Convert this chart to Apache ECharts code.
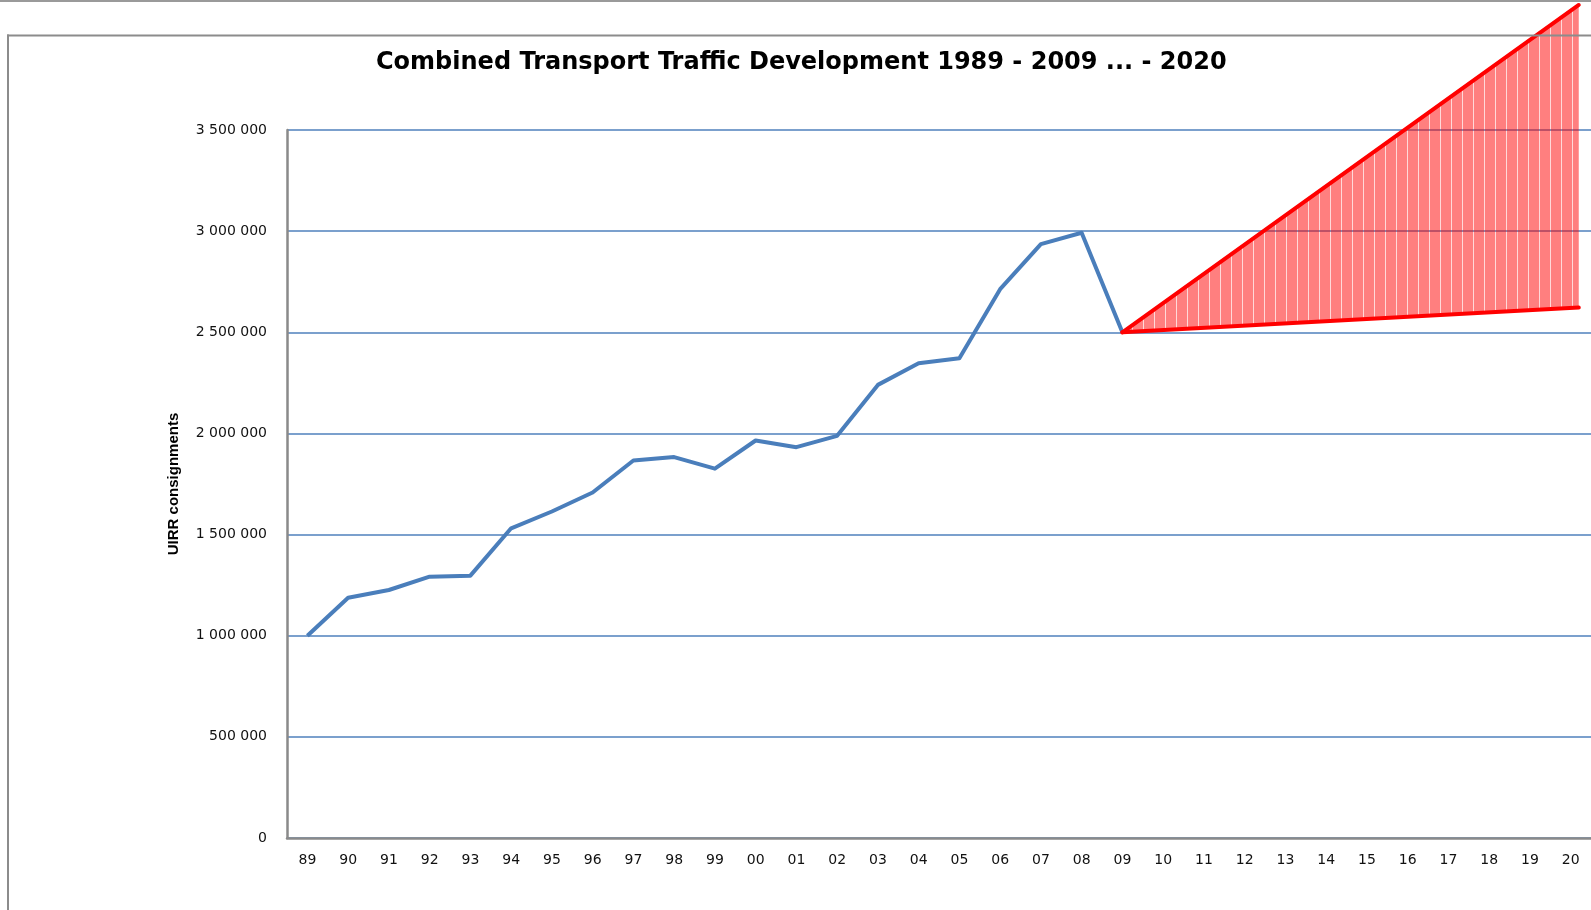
<!DOCTYPE html>
<html>
<head>
<meta charset="utf-8">
<script src="https://cdn.jsdelivr.net/npm/echarts@6/dist/echarts.min.js"></script>
<style>
html,body{margin:0;padding:0;background:#fff;}
#chart{width:1591px;height:910px;}
</style>
</head>
<body>
<div id="chart"></div>
<script>
// ---- data ----
const years = ['89','90','91','92','93','94','95','96','97','98','99','00','01','02','03','04','05','06','07','08','09','10','11','12','13','14','15','16','17','18','19','20'];
const traffic = [1000000, 1188000, 1226000, 1292000, 1297000, 1531000, 1614000, 1708000, 1866000, 1883000, 1826000, 1965000, 1932000, 1988000, 2240000, 2347000, 2372000, 2713000, 2936000, 2992000, 2500000,
  null, null, null, null, null, null, null, null, null, null, null];
// projection wedge (year, consignments)
const projYears = [2009, 2020.2];
const projHigh = [2500000, 4118000];
const projLow = [2500000, 2622000];
const yMin = 0, yMax = 3500000, yStep = 500000;
const titleText = 'Combined Transport Traffic Development 1989 - 2009 ... - 2020';
const yName = 'UIRR consignments';

// hatch pattern for wedge
const pc = document.createElement('canvas');
pc.width = 11; pc.height = 4;
const g = pc.getContext('2d');
g.fillStyle = 'rgba(255,0,0,0.5)';
g.fillRect(0, 0, 10, 4);
g.fillStyle = 'rgba(255,0,0,0.15)';
g.fillRect(10, 0, 1, 4);

function fmt(v) { return String(v).replace(/\B(?=(\d{3})+(?!\d))/g, ' '); }

const chart = echarts.init(document.getElementById('chart'));
chart.setOption({
  animation: false,
  backgroundColor: '#fff',
  title: {
    text: titleText,
    left: 376, top: 51, padding: 0,
    textStyle: { fontFamily: 'DejaVu Sans', fontWeight: 'bold', fontSize: 24, color: '#000' }
  },
  grid: { left: 287, top: 130, width: 1310, height: 708, containLabel: false },
  xAxis: [{
    type: 'category',
    data: years,
    boundaryGap: true,
    axisLine: { show: true, lineStyle: { color: '#8a8a8a', width: 2.5 } },
    axisTick: { show: false },
    axisLabel: { interval: 0, margin: 15, color: '#111', fontFamily: 'DejaVu Sans', fontSize: 14 },
    splitLine: { show: false }
  }, {
    type: 'value', min: 1988.5, max: 2020.5, show: false,
    splitLine: { show: false }
  }],
  yAxis: {
    type: 'value',
    min: yMin, max: yMax, interval: yStep,
    name: yName,
    nameLocation: 'middle',
    nameRotate: 90,
    nameGap: 106,
    nameTextStyle: { fontFamily: 'Liberation Sans', fontWeight: 'bold', fontSize: 15, color: '#000' },
    axisLine: { show: true, lineStyle: { color: '#8a8a8a', width: 2.5 } },
    axisTick: { show: false },
    axisLabel: { margin: 20, color: '#111', fontFamily: 'DejaVu Sans', fontSize: 14, formatter: fmt },
    splitLine: { show: true, lineStyle: { color: '#4F81BD', width: 1.5 } }
  },
  series: [{
    type: 'line',
    data: traffic,
    xAxisIndex: 0,
    symbol: 'none',
    connectNulls: false,
    lineStyle: { color: '#4A7EBB', width: 4, join: 'round' },
    z: 3
  }, {
    type: 'custom',
    coordinateSystem: 'cartesian2d',
    xAxisIndex: 1,
    yAxisIndex: 0,
    clip: false,
    z: 4,
    data: [[projYears[0], projHigh[0]]],
    renderItem: function (params, api) {
      const p0 = api.coord([projYears[0], projHigh[0]]);
      const pu = api.coord([projYears[1], projHigh[1]]);
      const pl = api.coord([projYears[1], projLow[1]]);
      return {
        type: 'group',
        children: [
          { type: 'polygon', shape: { points: [p0, pu, pl] }, style: { fill: { image: pc, repeat: 'repeat' } } },
          { type: 'polyline', shape: { points: [p0, pu] }, style: { stroke: '#ff0000', lineWidth: 4, lineCap: 'round', fill: null } },
          { type: 'polyline', shape: { points: [p0, pl] }, style: { stroke: '#ff0000', lineWidth: 4, lineCap: 'round', fill: null } }
        ]
      };
    }
  }],
  graphic: [
    { type: 'rect', z: 100, shape: { x: 0, y: 0, width: 1591, height: 2 }, style: { fill: '#9a9a9a' } },
    { type: 'rect', z: 100, shape: { x: 7, y: 34.5, width: 1591, height: 2 }, style: { fill: '#8c8c8c' } },
    { type: 'rect', z: 100, shape: { x: 7, y: 34.5, width: 2, height: 900 }, style: { fill: '#8c8c8c' } }
  ]
});
</script>
</body>
</html>
